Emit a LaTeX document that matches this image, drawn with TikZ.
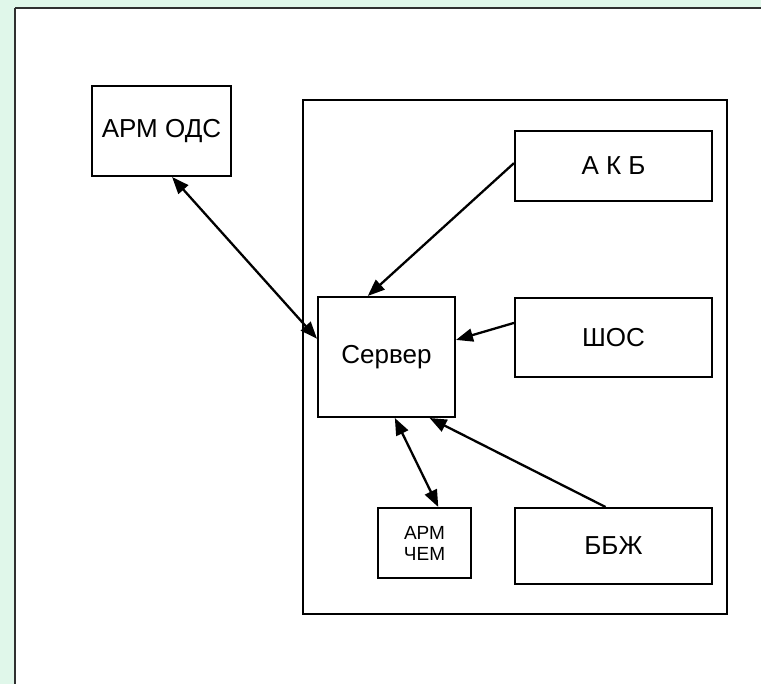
\documentclass[tikz,border=0pt]{standalone}
\usepackage{fontspec}
\setmainfont{Liberation Sans}
\usetikzlibrary{arrows.meta,calc}
\definecolor{mint}{HTML}{E0F7EA}
\definecolor{framegray}{HTML}{303030}
\tikzset{
  box/.style={draw, line width=2pt, rectangle, inner sep=0pt, anchor=north west, font=\fontsize{26}{30}\selectfont},
  link/.style={line width=2.3pt, -{Triangle[length=17pt,width=13pt]}},
  dlink/.style={line width=2.3pt, {Triangle[length=17pt,width=13pt]}-{Triangle[length=17pt,width=13pt]}}
}
\begin{document}
\begin{tikzpicture}[x=1pt,y=-1pt]
\useasboundingbox (0,0) rectangle (761,684);
\fill[mint] (0,0) rectangle (761,8);
\fill[mint] (0,0) rectangle (15,684);
\draw[framegray, line width=2.2pt] (15,8) -- (770,8);
\draw[framegray, line width=2.2pt] (15,8) -- (15,690);
\node[draw, line width=2pt, inner sep=0pt, anchor=north west, minimum width=424pt, minimum height=514pt] (cont) at (302,99) {};
\node[box, minimum width=139pt, minimum height=90pt] (ods) at (91,85) {АРМ ОДС};
\node[box, minimum width=197pt, minimum height=70pt] (akb) at (514,130) {А К Б};
\node[box, minimum width=197pt, minimum height=79pt] (shos) at (514,297) {ШОС};
\node[box, minimum width=197pt, minimum height=76pt] (bbzh) at (514,507) {ББЖ};
\node[box, minimum width=137pt, minimum height=120pt] (srv) at (317,296) {Сервер};
\node[box, minimum width=93pt, minimum height=70pt, align=center, font=\fontsize{19}{21}\selectfont] (chem) at (377,507) {АРМ\\ЧЕМ};
\draw[dlink] ($(ods.south west)!0.575!(ods.south east)$) -- ($(srv.north west)!0.35!(srv.south west)$);
\draw[link] ($(akb.north west)!0.46!(akb.south west)$) -- ($(srv.north west)!0.365!(srv.north east)$);
\draw[link] ($(shos.north west)!0.32!(shos.south west)$) -- ($(srv.north east)!0.36!(srv.south east)$);
\draw[link] ($(bbzh.north west)!0.46!(bbzh.north east)$) -- ($(srv.south west)!0.81!(srv.south east)$);
\draw[dlink] ($(srv.south west)!0.56!(srv.south east)$) -- ($(chem.north west)!0.645!(chem.north east)$);
\end{tikzpicture}
\end{document}
